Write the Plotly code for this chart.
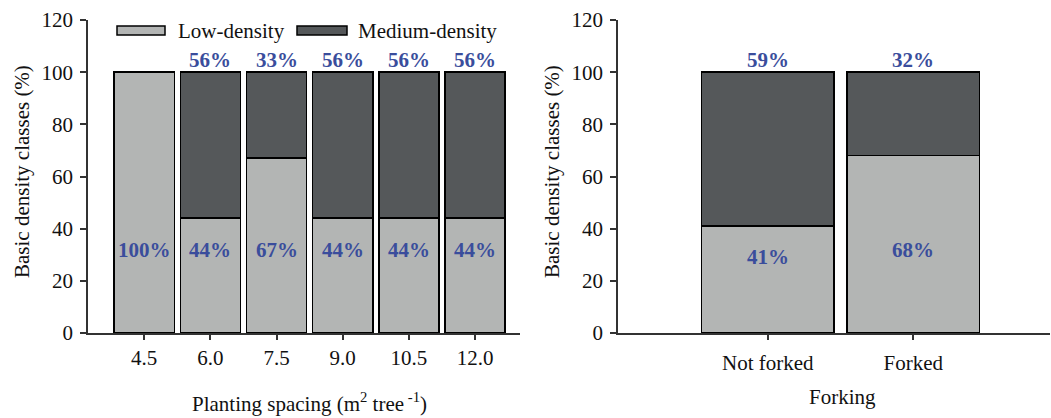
import plotly.graph_objects as go

# ---- data ----
spacing_labels = ["4.5", "6.0", "7.5", "9.0", "10.5", "12.0"]
spacing_low = [100, 44, 67, 44, 44, 44]
spacing_medium = [0, 56, 33, 56, 56, 56]
spacing_medium_text = ["", "56%", "33%", "56%", "56%", "56%"]
spacing_low_text = ["100%", "44%", "67%", "44%", "44%", "44%"]

fork_labels = ["Not forked", "Forked"]
fork_low = [41, 68]
fork_medium = [59, 32]
fork_low_text = ["41%", "68%"]
fork_medium_text = ["59%", "32%"]

series_names = ["Low-density", "Medium-density"]
y_ticks = [0, 20, 40, 60, 80, 100, 120]

# ---- style ----
LIGHT = "#b3b5b4"
DARK = "#55585a"
BLUE = "#3a4d9c"
AX = "#333333"
FONT = "Liberation Serif"
W, H = 1051, 418

def px_x(p):
    return p / W

def px_y(p):
    return 1 - p / H

fig = go.Figure()

# left panel
fig.add_trace(go.Bar(x=spacing_labels, y=spacing_low, name=series_names[0],
                     marker=dict(color=LIGHT, line=dict(color="black", width=1.5)),
                     xaxis="x", yaxis="y", showlegend=False))
fig.add_trace(go.Bar(x=spacing_labels, y=spacing_medium, name=series_names[1],
                     marker=dict(color=DARK, line=dict(color="black", width=1.5)),
                     xaxis="x", yaxis="y", showlegend=False))
# right panel
fig.add_trace(go.Bar(x=fork_labels, y=fork_low, name=series_names[0],
                     marker=dict(color=LIGHT, line=dict(color="black", width=1.5)),
                     xaxis="x2", yaxis="y2", showlegend=False))
fig.add_trace(go.Bar(x=fork_labels, y=fork_medium, name=series_names[1],
                     marker=dict(color=DARK, line=dict(color="black", width=1.5)),
                     xaxis="x2", yaxis="y2", showlegend=False))

annotations = []
lab_font = dict(family=FONT, size=21, color=BLUE)
for i, t in enumerate(spacing_medium_text):
    if t:
        annotations.append(dict(x=i, y=104.6, xref="x", yref="y", text="<b>%s</b>" % t,
                                showarrow=False, font=lab_font, xanchor="center", yanchor="middle"))
for i, t in enumerate(spacing_low_text):
    annotations.append(dict(x=i, y=32, xref="x", yref="y", text="<b>%s</b>" % t,
                            showarrow=False, font=lab_font, xanchor="center", yanchor="middle"))
fork_low_y = [29, 32]
for i, t in enumerate(fork_medium_text):
    annotations.append(dict(x=i, y=104.6, xref="x2", yref="y2", text="<b>%s</b>" % t,
                            showarrow=False, font=lab_font, xanchor="center", yanchor="middle"))
for i, (t, yy) in enumerate(zip(fork_low_text, fork_low_y)):
    annotations.append(dict(x=i, y=yy, xref="x2", yref="y2", text="<b>%s</b>" % t,
                            showarrow=False, font=lab_font, xanchor="center", yanchor="middle"))

title_font = dict(family=FONT, size=21, color="#111111")
# axis titles
annotations += [
    dict(x=px_x(309), y=px_y(402), xref="paper", yref="paper", showarrow=False,
         xanchor="center", yanchor="middle",
         text="Planting spacing (m<sup>2</sup> tree<sup> -1</sup>)", font=title_font),
    dict(x=px_x(842), y=px_y(397), xref="paper", yref="paper", showarrow=False,
         xanchor="center", yanchor="middle", text="Forking", font=title_font),
    dict(x=px_x(22), y=px_y(172), xref="paper", yref="paper", showarrow=False,
         xanchor="center", yanchor="middle",
         text="Basic density classes (%)", textangle=-90, font=title_font),
    dict(x=px_x(552), y=px_y(172), xref="paper", yref="paper", showarrow=False,
         xanchor="center", yanchor="middle",
         text="Basic density classes (%)", textangle=-90, font=title_font),
]
# custom legend text
annotations += [
    dict(x=px_x(176), y=px_y(31), xref="paper", yref="paper", showarrow=False,
         xanchor="left", yanchor="middle", text=series_names[0], font=title_font),
    dict(x=px_x(356), y=px_y(31), xref="paper", yref="paper", showarrow=False,
         xanchor="left", yanchor="middle", text=series_names[1], font=title_font),
]
shapes = [
    dict(type="rect", xref="paper", yref="paper", x0=px_x(117), x1=px_x(165),
         y0=px_y(35), y1=px_y(26), fillcolor=LIGHT, line=dict(color="black", width=1.5)),
    dict(type="rect", xref="paper", yref="paper", x0=px_x(297), x1=px_x(347),
         y0=px_y(35), y1=px_y(26), fillcolor=DARK, line=dict(color="black", width=1.5)),
]

ydom = [px_y(333), px_y(20)]
tick_font = dict(family=FONT, size=21, color="#111111")
common_x = dict(showline=True, linecolor=AX, linewidth=1.5, ticks="outside", ticklen=5,
                tickcolor=AX, tickwidth=1.5, tickfont=tick_font, showgrid=False,
                zeroline=False, automargin=False, type="category")
common_y = dict(showline=True, linecolor=AX, linewidth=1.5, ticks="outside", ticklen=6,
                tickcolor=AX, tickwidth=1.5, tickfont=tick_font, showgrid=False,
                zeroline=False, automargin=False, range=[0, 120], tickvals=y_ticks,
                domain=ydom, ticklabelstandoff=3)

fig.update_layout(
    width=W, height=H,
    margin=dict(l=0, r=0, t=0, b=0),
    paper_bgcolor="white", plot_bgcolor="white",
    barmode="stack", bargap=0.09,
    font=dict(family=FONT),
    xaxis=dict(domain=[px_x(88), px_x(520)], range=[-0.85, 5.68], anchor="y", **common_x),
    yaxis=dict(anchor="x", **common_y),
    xaxis2=dict(domain=[px_x(618), px_x(1050)], range=[-1.03, 1.94], anchor="y2",
                ticklabelstandoff=5, **common_x),
    yaxis2=dict(anchor="x2", **common_y),
    annotations=annotations,
    shapes=shapes,
    showlegend=False,
)

fig.write_html("out.html")
